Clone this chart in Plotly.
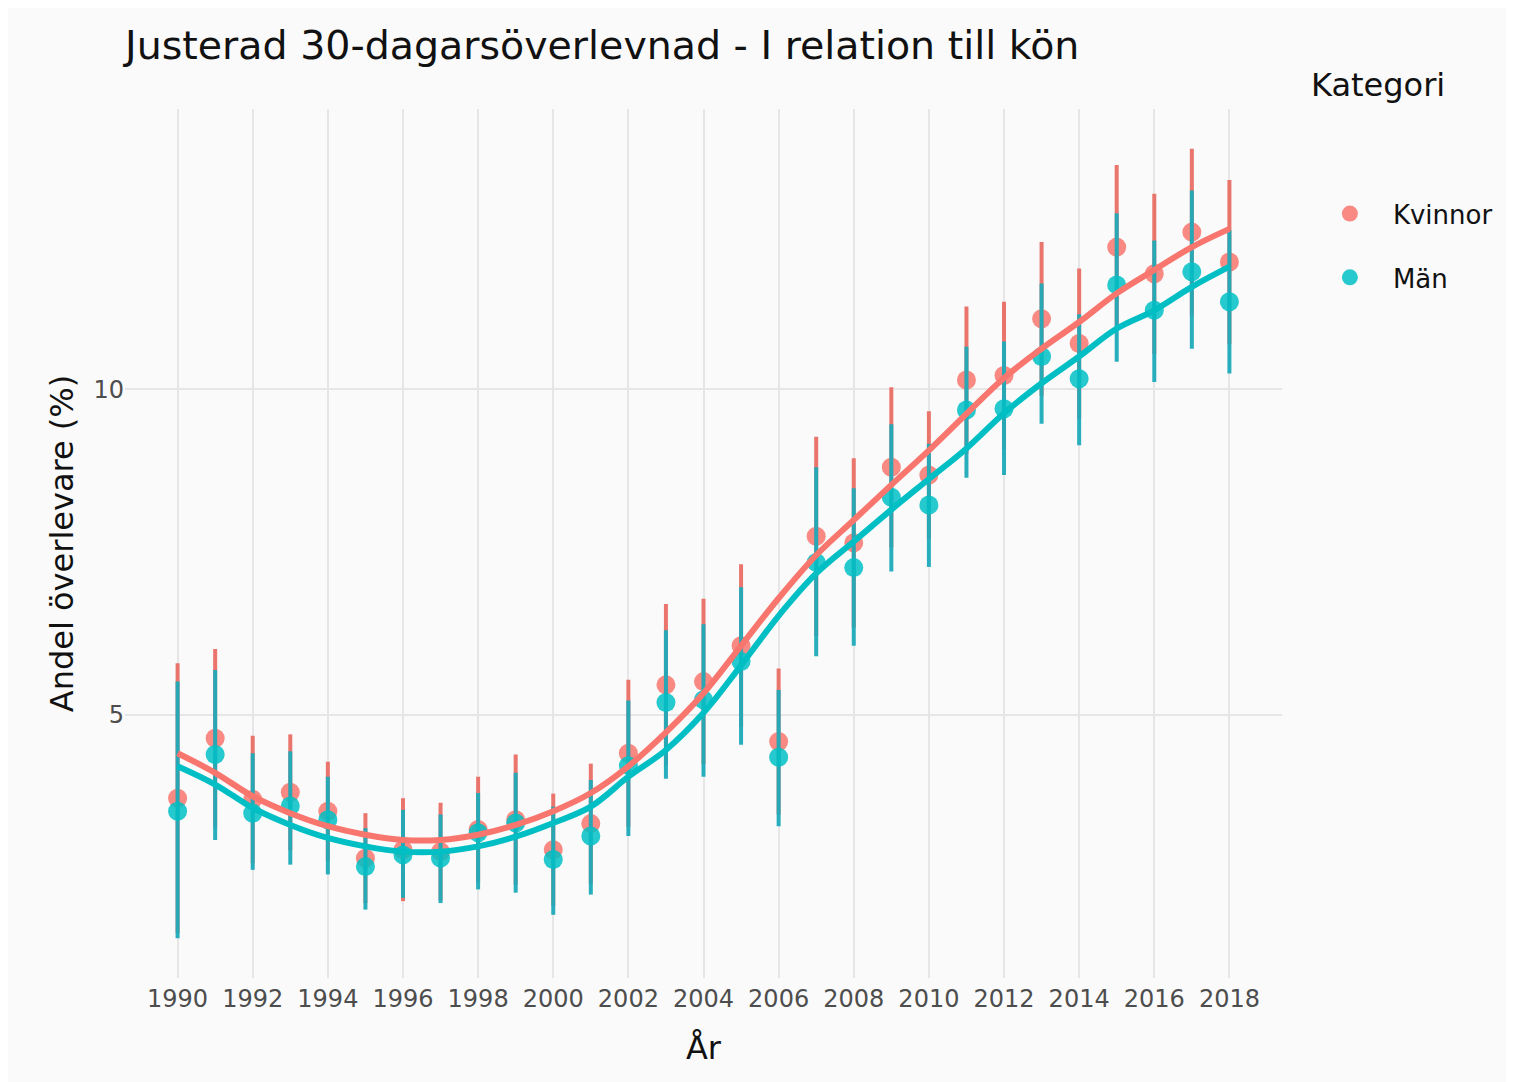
import plotly.graph_objects as go

years = list(range(1990, 2019))

kv_pt = [3.72, 4.64, 3.70, 3.81, 3.52, 2.80, 2.93, 2.90, 3.24, 3.39, 2.93, 3.33, 4.41, 5.46, 5.51,
         6.06, 4.59, 7.74, 7.64, 8.80, 8.68, 10.14, 10.21, 11.08, 10.70, 12.18, 11.77, 12.41, 11.95]
kv_hi = [5.79, 6.01, 4.68, 4.70, 4.28, 3.49, 3.72, 3.65, 4.05, 4.39, 3.79, 4.25, 5.54, 6.70, 6.78,
         7.31, 5.71, 9.27, 8.94, 10.03, 9.66, 11.27, 11.34, 12.26, 11.85, 13.44, 13.00, 13.69, 13.21]
kv_lo = [1.65, 3.27, 2.72, 2.92, 2.76, 2.11, 2.14, 2.15, 2.43, 2.39, 2.07, 2.41, 3.28, 4.22, 4.24,
         4.81, 3.47, 6.21, 6.34, 7.57, 7.70, 9.01, 9.08, 9.90, 9.55, 10.92, 10.54, 11.13, 10.69]
kv_fit = [4.41, 4.11, 3.75, 3.49, 3.29, 3.16, 3.08, 3.08, 3.16, 3.31, 3.52, 3.80, 4.21, 4.73, 5.33,
          6.06, 6.79, 7.45, 7.99, 8.53, 9.06, 9.62, 10.17, 10.62, 11.03, 11.47, 11.83, 12.18, 12.46]

man_pt = [3.52, 4.39, 3.49, 3.60, 3.39, 2.67, 2.85, 2.80, 3.19, 3.34, 2.78, 3.14, 4.22, 5.19, 5.23,
          5.82, 4.35, 7.34, 7.26, 8.34, 8.22, 9.68, 9.70, 10.50, 10.16, 11.60, 11.21, 11.80, 11.34]
man_hi = [5.51, 5.69, 4.41, 4.44, 4.05, 3.26, 3.54, 3.47, 3.80, 4.11, 3.59, 4.00, 5.22, 6.30, 6.39,
          6.96, 5.38, 8.80, 8.48, 9.46, 9.16, 10.65, 10.73, 11.62, 11.15, 12.70, 12.28, 13.05, 12.44]
man_lo = [1.57, 3.08, 2.62, 2.70, 2.55, 2.01, 2.19, 2.11, 2.32, 2.27, 1.93, 2.24, 3.14, 4.02, 4.05,
          4.54, 3.29, 5.90, 6.06, 7.20, 7.27, 8.64, 8.68, 9.47, 9.14, 10.42, 10.11, 10.62, 10.24]
man_fit = [4.21, 3.93, 3.57, 3.31, 3.11, 2.98, 2.90, 2.90, 2.98, 3.13, 3.34, 3.59, 4.05, 4.46, 5.03,
           5.76, 6.52, 7.17, 7.66, 8.15, 8.62, 9.09, 9.63, 10.09, 10.50, 10.93, 11.21, 11.57, 11.88]

x_ticks = list(range(1990, 2019, 2))
y_ticks = [5, 10]

RED = "#F8766D"
TEAL = "#00BFC4"
FONT = "DejaVu Sans"

fig = go.Figure()

def add_series(name, pt, hi, lo, color, barcolor, group):
    fig.add_trace(go.Scatter(
        x=years, y=pt, mode="markers", name=name, legendgroup=group,
        marker=dict(color=color, size=19, opacity=0.85),
        error_y=dict(type="data", symmetric=False,
                     array=[h - p for h, p in zip(hi, pt)],
                     arrayminus=[p - l for p, l in zip(pt, lo)],
                     color=barcolor, thickness=4, width=0),
    ))

add_series("Kvinnor", kv_pt, kv_hi, kv_lo, RED, "rgba(232,110,100,0.95)", "a")
add_series("Män", man_pt, man_hi, man_lo, TEAL, "rgba(30,170,185,0.95)", "b")

fig.add_trace(go.Scatter(x=years, y=kv_fit, mode="lines", line=dict(color=RED, width=6, shape="spline"),
                         showlegend=False, hoverinfo="skip"))
fig.add_trace(go.Scatter(x=years, y=man_fit, mode="lines", line=dict(color=TEAL, width=6, shape="spline"),
                         showlegend=False, hoverinfo="skip"))

fig.update_layout(
    width=1514, height=1082,
    paper_bgcolor="#FAFAFA", plot_bgcolor="#FAFAFA",
    margin=dict(l=117, r=240, t=101, b=112),
    font=dict(family=FONT, color="#222222"),
    title=dict(text="Justerad 30-dagarsöverlevnad - I relation till kön",
               x=117 / 1514, xanchor="left", xref="container",
               y=1 - 37 / 1082, yanchor="middle", yref="container",
               font=dict(size=39.5, color="#111111", family=FONT)),
    xaxis=dict(range=[1988.6, 2019.4], tickvals=x_ticks, ticktext=[str(t) for t in x_ticks],
               showgrid=True, gridcolor="#E6E6E6", gridwidth=2, zeroline=False, showline=False,
               ticks="", tickfont=dict(size=24, color="#4D4D4D"), ticklabelstandoff=4,
               title=dict(text="År", font=dict(size=32, color="#111111"), standoff=24)),
    yaxis=dict(range=[0.96, 14.30], tickvals=y_ticks, ticktext=[str(t) for t in y_ticks],
               showgrid=True, gridcolor="#E6E6E6", gridwidth=2, zeroline=False, showline=False,
               ticks="", tickfont=dict(size=24, color="#4D4D4D"),
               title=dict(text="Andel överlevare (%)", font=dict(size=32, color="#111111"), standoff=10)),
    legend=dict(x=1.0215, xanchor="left", y=0.9066, yanchor="top",
                font=dict(size=26, color="#111111"), itemwidth=76,
                traceorder="grouped", tracegroupgap=27, bgcolor="rgba(0,0,0,0)"),
    annotations=[dict(text="Kategori", xref="paper", yref="paper", x=(1309 - 125) / 1157, xanchor="left",
                      y=(978 - 85) / 869, yanchor="middle", showarrow=False,
                      font=dict(size=32, color="#111111", family=FONT))],
    showlegend=True,
)

fig.write_html("out.html")
